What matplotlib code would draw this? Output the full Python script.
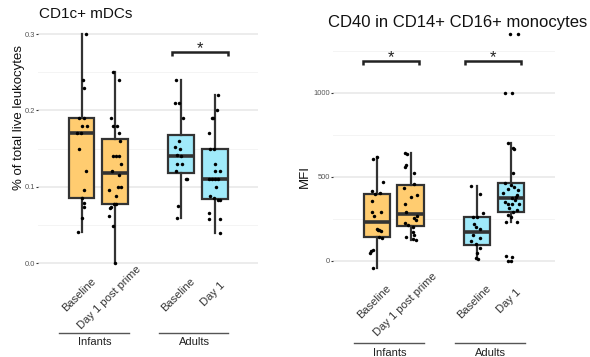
import matplotlib
matplotlib.use('Agg')
import matplotlib.pyplot as plt
from matplotlib.transforms import blended_transform_factory as btf, ScaledTranslation
import numpy as np

plt.rcParams['font.family'] = ['Liberation Sans', 'DejaVu Sans']

# ---------------- data ----------------
groups = ['Infants', 'Adults']
tick_labels = ['Baseline', 'Day 1 post prime', 'Baseline', 'Day 1']

# CD1c+ mDCs (% of total live leukocytes)
cd1c_inf_base = [0.30, 0.24, 0.23, 0.19, 0.19, 0.18, 0.18, 0.17, 0.17, 0.15, 0.12,
                 0.096, 0.085, 0.079, 0.073, 0.059, 0.041]
cd1c_inf_d1 = [0.25, 0.24, 0.19, 0.18, 0.18, 0.17, 0.16, 0.14, 0.14, 0.14, 0.13, 0.12,
               0.115, 0.10, 0.10, 0.096, 0.088, 0.078, 0.078, 0.073, 0.072, 0.062, 0.049, 0.0]
cd1c_ad_base = [0.24, 0.21, 0.21, 0.19, 0.16, 0.152, 0.15, 0.141, 0.14, 0.13, 0.13,
                0.12, 0.11, 0.11, 0.075, 0.059]
cd1c_ad_d1 = [0.22, 0.20, 0.19, 0.19, 0.17, 0.15, 0.15, 0.13, 0.12, 0.12, 0.11, 0.11,
              0.11, 0.11, 0.10, 0.088, 0.085, 0.083, 0.083, 0.066, 0.058, 0.058, 0.04]

# CD40 in CD14+ CD16+ monocytes (MFI)
cd40_inf_base = [-42, 48, 55, 64, 135, 141, 175, 180, 184, 190, 266, 288, 292, 357,
                 395, 401, 415, 467, 604, 619]
cd40_inf_d1 = [123, 130, 143, 153, 172, 202, 210, 226, 242, 252, 266, 290, 336, 381,
               391, 431, 458, 520, 560, 570, 633, 643]
cd40_ad_base = [12, 18, 44, 74, 99, 117, 133, 153, 187, 202, 217, 258, 262, 286, 397, 445]
cd40_ad_d1 = [0, 0, 25, 30, 232, 232, 262, 272, 292, 302, 315, 336, 336, 336, 350, 362,
              371, 381, 391, 405, 421, 427, 440, 451, 464, 524, 665, 669, 702, 1000,
              1000, 1350, 1350]

# horizontal jitter (pixels)
jit_cd1c = [
    [5, 2, 3, -3, 2.5, 0, 6, -5, -1, -2.5, 5, 2.5, 1, 2.5, 2.5, 1, -3.5],
    [-2.3, 4.3, -4.3, -1.7, 1.7, 4.3, 5, -1.7, 1, 4, 6, -3, 4.3, 3.3, 5.7, -6, 1, 0.7,
     -1.3, -4, -5, -6, -1.7, 0],
    [-5.7, -6.3, -2.3, 2, -2.3, -6.3, -1.3, -4.7, -0.7, -4, 0.3, -5.3, 4.7, 6, -3, -4],
    [3.7, 2.7, -3, -2, -6.3, -4.7, -1.3, 0.7, 0.3, 5.3, -6.3, -3, 0.3, 3.7, 1.3, -4.7,
     -1.3, 3.7, 5.3, -6.3, -6.3, 5.3, 5.3],
]
jit_cd40 = [
    [-3.4, -6.7, -5.7, -4, 5, 2.3, 4.3, 1.3, 2.7, 0.3, -2.7, 4, -5, -5, -1.7, 3.3, -5, 6,
     -4, 0],
    [5.3, 2.7, -4.7, 3.6, 2.6, 2.6, -2.7, -5.7, 5.3, 3.6, 6, -4.7, -5.7, 0.3, 6, -6.4,
     3.3, 3.6, -5.7, -5, -4, -5.7],
    [0.6, -1, 0, 2.3, -1.7, -6, 2.6, -4.4, 2.3, -1, -3.4, 0, -4.4, 5.6, 3, -6.7],
    [-3.3, 0, 0.7, -5.3, -5, 5.7, 0, -3.3, 2, 5.7, -2, -2.7, 0.7, 7.7, -6, 4, 1, 5, 5.7,
     -8, 7.3, -2.7, 3, -0.3, -6.3, 2.3, 3.3, 1.7, -2.7, -6, 0.7, -1, 7.3],
]

orange = '#FFCC70'
blue = '#A0EAFA'
box_colors = [orange, orange, blue, blue]
positions = [0.832, 1.168, 1.832, 2.168]

W, H = 590, 357
fig = plt.figure(figsize=(W / 100, H / 100), dpi=100)


def axes_px(l, t, r, b):
    return fig.add_axes([l / W, 1 - b / H, (r - l) / W, (b - t) / H])


def draw_panel(ax, data, jit, ylim, major, minor, ticklabels):
    for v in major:
        ax.axhline(v, color='#EBEBEB', lw=1.3, zorder=0)
    for v in minor:
        ax.axhline(v, color='#F4F4F4', lw=0.7, zorder=0)
    bp = ax.boxplot(data, positions=positions, widths=0.26, patch_artist=True,
                    showfliers=False, showcaps=False, whis=1.5,
                    medianprops=dict(color='#333333', lw=2.6, solid_capstyle='butt'),
                    whiskerprops=dict(color='#333333', lw=1.6),
                    boxprops=dict(edgecolor='#333333', lw=1.6))
    for patch, c in zip(bp['boxes'], box_colors):
        patch.set_facecolor(c)
    for i, (vals, offs) in enumerate(zip(data, jit)):
        xs = [positions[i] + o / 100.0 for o in offs]
        ax.plot(xs, vals, 'o', color='black', ms=2.5, mec='none', zorder=5)
    ax.set_xlim(0.4, 2.6)
    ax.set_ylim(*ylim)
    ax.set_xticks([])
    ax.set_yticks(major)
    ax.set_yticklabels(ticklabels)
    for s in ax.spines.values():
        s.set_visible(False)
    ax.tick_params(axis='y', length=1.5, width=0.8, color='#333333', labelsize=5.4,
                   labelcolor='#555555', pad=1)


def bracket(ax, x0, x1, ybar, ytip, ystar):
    ax.plot([x0, x0, x1, x1], [ytip, ybar, ybar, ytip], color='#222222', lw=1.8,
            solid_capstyle='butt', solid_joinstyle='miter', zorder=6)
    ax.text((x0 + x1) / 2, ystar, '*', ha='center', va='baseline', fontsize=12,
            color='#222222')


renderer = fig.canvas.get_renderer()


def rot_label(ax, x, ypx, s, hjust=0.59):
    tr = btf(ax.transData, fig.transFigure)
    tmp = fig.text(0, 0, s, fontsize=8)
    L = tmp.get_window_extent(renderer).width
    tmp.remove()
    d = (hjust - 0.5) * L * np.cos(np.pi / 4)
    off = ScaledTranslation(-d / 100.0, -d / 100.0, fig.dpi_scale_trans)
    ax.text(x, 1 - ypx / H, s, transform=tr + off, rotation=45, rotation_mode='anchor',
            ha='center', va='center', fontsize=8, color='#333333', clip_on=False)


def group_axis(ax, yline, ylab):
    tr = btf(ax.transData, fig.transFigure)
    for gi, g in enumerate(groups):
        c = gi + 1
        ax.plot([c - 0.395, c + 0.305], [1 - yline / H] * 2, transform=tr, color='#555555',
                lw=1.0, clip_on=False)
        ax.text(c - 0.035, 1 - ylab / H, g, transform=tr, ha='center', va='center',
                fontsize=8, color='#222222', clip_on=False)


# ---------------- left panel ----------------
axL = axes_px(38.4, 23, 257.9, 275)
draw_panel(axL, [cd1c_inf_base, cd1c_inf_d1, cd1c_ad_base, cd1c_ad_d1], jit_cd1c,
           (-0.0157, 0.3146), [0.0, 0.1, 0.2, 0.3], [0.05, 0.15, 0.25],
           ['0.0', '0.1', '0.2', '0.3'])
bracket(axL, 1.74, 2.30, 0.277, 0.271, 0.2748)
for p, s in zip(positions, tick_labels):
    rot_label(axL, p, 292, s)
group_axis(axL, 333, 342)
fig.text(39 / W, 1 - 18 / H, 'CD1c+ mDCs', fontsize=11, ha='left', va='baseline',
         color='#111111')
fig.text(19 / W, 1 - 118 / H, '% of total live leukocytes', rotation=90, fontsize=9.5,
         ha='center', va='center', color='#111111')

# ---------------- right panel ----------------
axR = axes_px(333.3, 30, 554.6, 275)
draw_panel(axR, [cd40_inf_base, cd40_inf_d1, cd40_ad_base, cd40_ad_d1], jit_cd40,
           (-85, 1373), [0, 500, 1000], [250, 750, 1250], ['0', '500', '1000'])
bracket(axR, 0.70, 1.254, 1189, 1165, 1182)
bracket(axR, 1.709, 2.262, 1189, 1165, 1182)
for p, s in zip(positions, tick_labels):
    rot_label(axR, p, 299, s)
group_axis(axR, 343.3, 352.5)
fig.text(457.5 / W, 1 - 26.5 / H, 'CD40 in CD14+ CD16+ monocytes', fontsize=12,
         ha='center', va='baseline', color='#111111')
fig.text(305 / W, 1 - 177 / H, 'MFI', rotation=90, fontsize=9.5, ha='center',
         va='center', color='#111111')

fig.savefig('out.png', dpi=100)
